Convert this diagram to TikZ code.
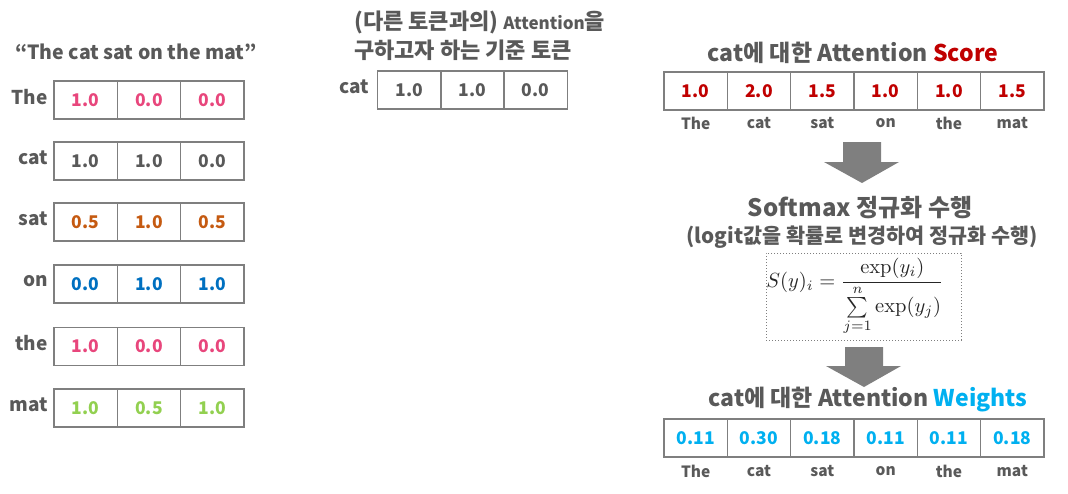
\documentclass[tikz,border=0pt]{standalone}
\usepackage[no-math]{fontspec}
\setmainfont{Noto Sans CJK KR}
\usepackage{amsmath}
\usepackage{graphicx}
\definecolor{txt}{HTML}{595959}
\definecolor{boxgray}{HTML}{7F7F7F}
\definecolor{arrowgray}{HTML}{7F7F7F}
\definecolor{pinkc}{HTML}{E8467C}
\definecolor{orangec}{HTML}{C55A11}
\definecolor{bluec}{HTML}{0070C0}
\definecolor{greenc}{HTML}{92D050}
\definecolor{redc}{HTML}{C00000}
\definecolor{cyanc}{HTML}{00B0F0}
\begin{document}
\begin{tikzpicture}[x=1pt,y=-1pt,
  cell/.style={draw=boxgray, line width=1.3pt, minimum width=63.33pt, minimum height=38pt,
    inner sep=0pt, outer sep=0pt, font=\fontsize{17.5}{20}\selectfont\bfseries},
  rowlab/.style={anchor=east, text=txt, inner sep=0pt, font=\fontsize{19}{22}\selectfont\bfseries},
  sublab/.style={text=txt, inner sep=0pt, font=\fontsize{15.5}{18}\selectfont\bfseries},
  title/.style={text=txt, inner sep=0pt, font=\fontsize{23}{27}\selectfont\bfseries},
  blockarrow/.style={fill=arrowgray, draw=none}]
\useasboundingbox (0,0) rectangle (1068,493);

% left: sentence
\node[title, font=\fontsize{19.5}{23}\selectfont\bfseries] (sent) at (136,52) {“The cat sat on the mat”};
\foreach \r/\w/\y/\col/\a/\b/\c in {
  1/The/100/pinkc/1.0/0.0/0.0,
  2/cat/161/txt/1.0/1.0/0.0,
  3/sat/222/orangec/0.5/1.0/0.5,
  4/on/284/bluec/0.0/1.0/1.0,
  5/the/346.5/pinkc/1.0/0.0/0.0,
  6/mat/408/greenc/1.0/0.5/1.0}{
  \node[rowlab] (L\r lab) at (48,\y-3) {\w};
  \node[cell, text=\col] (L\r c1) at (85.7,\y) {\a};
  \node[cell, text=\col] (L\r c2) at (149,\y) {\b};
  \node[cell, text=\col] (L\r c3) at (212.3,\y) {\c};
}

% middle: query token
\node[title, anchor=west, font=\fontsize{22}{26}\selectfont\bfseries] (mt1) at (354,22) {(다른 토큰과의) {\fontsize{17}{20}\selectfont Attention}을};
\node[title, anchor=west, font=\fontsize{22}{26}\selectfont\bfseries] (mt2) at (354,50) {구하고자 하는 기준 토큰};
\node[rowlab] (Mlab) at (369,87) {cat};
\node[cell, text=txt] (M1) at (409.5,90) {1.0};
\node[cell, text=txt] (M2) at (472.5,90) {1.0};
\node[cell, text=txt] (M3) at (535.5,90) {0.0};

% right: score
\node[title] (stitle) at (853,53) {cat에 대한 Attention \textcolor{redc}{Score}};
\foreach \i/\x/\v/\w in {1/695.7/1.0/The, 2/759/2.0/cat, 3/822.3/1.5/sat, 4/885.7/1.0/on, 5/949/1.0/the, 6/1012.3/1.5/mat}{
  \node[cell, text=redc] (S\i) at (\x,91) {\v};
  \node[sublab] (S\i lab) at (\x,123) {\w};
}

% arrow 1
\fill[blockarrow] (843,142) -- (881,142) -- (881,162) -- (899,162) -- (862,183) -- (824,162) -- (843,162) -- cycle;

% softmax
\node[title, font=\fontsize{24}{28}\selectfont\bfseries] (smt) at (860,208) {Softmax 정규화 수행};
\node[title, font=\fontsize{20.7}{24}\selectfont\bfseries] (sms) at (862,237) {(logit값을 확률로 변경하여 정규화 수행)};
\node[draw=boxgray, dotted, line width=1pt, minimum width=195pt, minimum height=87pt, inner sep=0pt] (fbox) at (863.5,296.5) {};
\node[inner sep=0pt, text=black!85] (formula) at (855,297)
  {\scalebox{2.05}{$\displaystyle S(y)_i=\frac{\exp(y_i)}{\sum\limits_{j=1}^{n}\exp(y_j)}$}};

% arrow 2
\fill[blockarrow] (845,347) -- (883,347) -- (883,366) -- (901,366) -- (864,387) -- (826,366) -- (845,366) -- cycle;

% weights
\node[title] (wtitle) at (868,400) {cat에 대한 Attention \textcolor{cyanc}{Weights}};
\foreach \i/\x/\v/\w in {1/695.7/0.11/The, 2/759/0.30/cat, 3/822.3/0.18/sat, 4/885.7/0.11/on, 5/949/0.11/the, 6/1012.3/0.18/mat}{
  \node[cell, text=cyanc] (W\i) at (\x,438) {\v};
  \node[sublab] (W\i lab) at (\x,471) {\w};
}
\end{tikzpicture}
\end{document}
